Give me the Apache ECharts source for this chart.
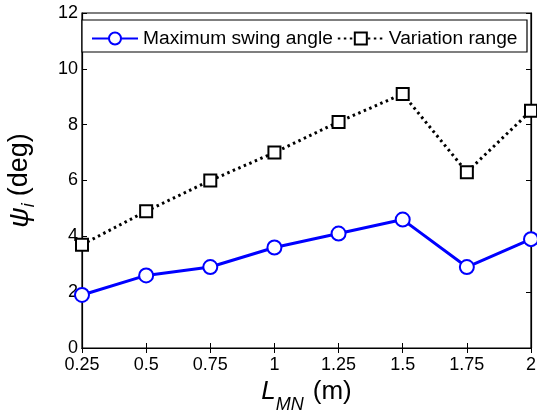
<!DOCTYPE html>
<html>
<head>
<meta charset="utf-8">
<script src="https://cdn.jsdelivr.net/npm/echarts@6/dist/echarts.min.js"></script>
<style>
  html, body { margin: 0; padding: 0; background: #fff; }
  #chart { width: 537px; height: 416px; }
</style>
</head>
<body>
<div id="chart"></div>
<script>
  // x categories, L_MN (m)
  var lengths = ['0.25', '0.5', '0.75', '1', '1.25', '1.5', '1.75', '2'];
  // psi_i (deg)
  var maxSwing = [1.9, 2.6, 2.9, 3.6, 4.1, 4.6, 2.9, 3.9];
  var variation = [3.7, 4.9, 6.0, 7.0, 8.1, 9.1, 6.3, 8.5];
  var yTicks = [0, 2, 4, 6, 8, 10, 12];

  var chart = echarts.init(document.getElementById('chart'));
  var font = 'Liberation Sans, Arial, sans-serif';

  var option = {
    animation: false,
    backgroundColor: '#fff',
    grid: {
      left: 82, right: 6, top: 13, bottom: 68,
      outerBoundsMode: 'none',
      containLabel: false,
      show: true, borderColor: '#000', borderWidth: 1.2
    },
    graphic: [{
      type: 'rect',
      shape: { x: 82, y: 20, width: 445, height: 32 },
      style: { fill: '#fff', stroke: '#000', lineWidth: 1.2 },
      z: 5
    }],
    legend: {
      left: 86, top: 24, itemGap: 4, itemWidth: 46, itemHeight: 15,
      z: 10,
      textStyle: { fontFamily: font, fontSize: 19.2, color: '#000' },
      data: ['Maximum swing angle', 'Variation range']
    },
    xAxis: [{
      type: 'category',
      data: lengths,
      boundaryGap: false,
      name: '{l|L}{s|MN}{u|(m)}',
      nameLocation: 'middle',
      nameGap: 22,
      nameTextStyle: {
        fontFamily: font, color: '#000',
        rich: {
          l: { fontFamily: font, fontSize: 26, fontStyle: 'italic', color: '#000' },
          s: { fontFamily: font, fontSize: 18, fontStyle: 'italic', color: '#000', padding: [26, 0, 0, 0] },
          u: { fontFamily: font, fontSize: 26, color: '#000', padding: [0, 0, 0, 9] }
        }
      },
      axisLine: { lineStyle: { color: '#000', width: 1.2 } },
      axisTick: { inside: true, length: 5, alignWithLabel: true, lineStyle: { color: '#000' } },
      axisLabel: { fontFamily: font, fontSize: 18, color: '#000', margin: 8 },
      splitLine: { show: false }
    }, {
      type: 'category',
      data: lengths,
      boundaryGap: false,
      position: 'top',
      axisLine: { lineStyle: { color: '#000', width: 1.2 } },
      axisTick: { inside: true, length: 5, lineStyle: { color: '#000' } },
      axisLabel: { show: false },
      splitLine: { show: false }
    }],
    yAxis: [{
      type: 'value',
      min: yTicks[0], max: yTicks[yTicks.length - 1], interval: 2,
      name: '{p|\u03c8}{s|i}{u|(deg)}',
      nameLocation: 'middle',
      nameGap: 44,
      nameRotate: 90,
      nameTextStyle: {
        fontFamily: font, color: '#000',
        rich: {
          p: { fontFamily: font, fontSize: 28, fontStyle: 'italic', color: '#000' },
          s: { fontFamily: font, fontSize: 18, fontStyle: 'italic', color: '#000', padding: [18, 0, 0, 0] },
          u: { fontFamily: font, fontSize: 27, color: '#000', padding: [0, 0, 0, 7] }
        }
      },
      axisLine: { show: true, lineStyle: { color: '#000', width: 1.2 } },
      axisTick: { show: true, inside: true, length: 5, lineStyle: { color: '#000' } },
      axisLabel: { fontFamily: font, fontSize: 18, color: '#000', margin: 4 },
      splitLine: { show: false }
    }, {
      type: 'value',
      min: yTicks[0], max: yTicks[yTicks.length - 1], interval: 2,
      position: 'right',
      axisLine: { show: true, lineStyle: { color: '#000', width: 1.2 } },
      axisTick: { show: true, inside: true, length: 5, lineStyle: { color: '#000' } },
      axisLabel: { show: false },
      splitLine: { show: false }
    }],
    series: [{
      name: 'Maximum swing angle',
      type: 'line',
      data: maxSwing,
      symbol: 'emptyCircle',
      symbolSize: 14,
      lineStyle: { color: '#0000ff', width: 3 },
      itemStyle: { color: '#0000ff', borderColor: '#0000ff', borderWidth: 3 },
      z: 3
    }, {
      name: 'Variation range',
      type: 'line',
      data: variation,
      symbol: 'emptyRect',
      symbolSize: 12,
      lineStyle: { color: '#000', width: 3, type: [2.5, 3.5] },
      itemStyle: { color: '#000', borderColor: '#000', borderWidth: 3.4 },
      z: 3
    }]
  };

  option && chart.setOption(option);
</script>
</body>
</html>
